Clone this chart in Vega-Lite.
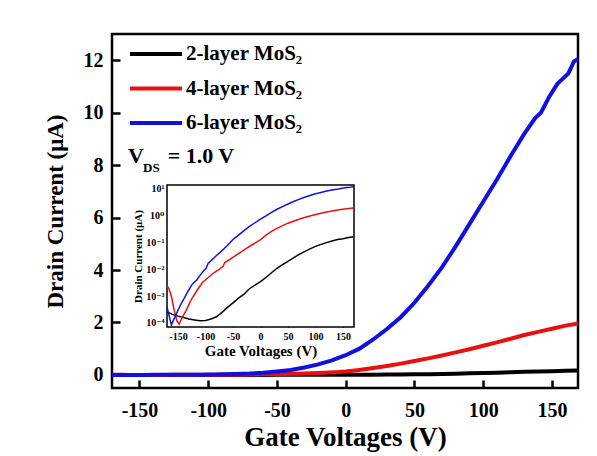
{
  "$schema": "https://vega.github.io/schema/vega-lite/v6.json",
  "width": 466,
  "height": 354,
  "autosize": {"type": "none"},
  "padding": {"left": 112, "top": 34, "right": 19, "bottom": 68},
  "background": "white",
  "config": {
    "font": "Liberation Serif, DejaVu Serif, serif",
    "view": {"stroke": "black", "strokeWidth": 2.5},
    "axis": {
      "grid": false,
      "labelFont": "Liberation Serif, DejaVu Serif, serif",
      "titleFont": "Liberation Serif, DejaVu Serif, serif",
      "labelFontWeight": "bold",
      "titleFontWeight": "bold",
      "labelColor": "black",
      "titleColor": "black",
      "tickColor": "black",
      "domainColor": "black",
      "labelFlush": false,
      "labelOverlap": false
    },
    "legend": {
      "orient": "none",
      "legendX": 16,
      "legendY": 9,
      "symbolType": "stroke",
      "symbolSize": 2704,
      "symbolStrokeWidth": 4,
      "labelFont": "Liberation Serif, DejaVu Serif, serif",
      "labelFontSize": 21,
      "labelFontWeight": "bold",
      "labelColor": "black",
      "clipHeight": 22,
      "rowPadding": 12.5,
      "labelOffset": 2,
      "padding": 0
    }
  },
  "datasets": {
    "iv": [
      {"layer": "2-layer MoS₂", "Vg": -170, "Id": 0.00026},
      {"layer": "2-layer MoS₂", "Vg": -160, "Id": 0.00021},
      {"layer": "2-layer MoS₂", "Vg": -150, "Id": 0.00018},
      {"layer": "2-layer MoS₂", "Vg": -140, "Id": 0.00016},
      {"layer": "2-layer MoS₂", "Vg": -130, "Id": 0.00014},
      {"layer": "2-layer MoS₂", "Vg": -120, "Id": 0.00013},
      {"layer": "2-layer MoS₂", "Vg": -110, "Id": 0.00012},
      {"layer": "2-layer MoS₂", "Vg": -100, "Id": 0.000125},
      {"layer": "2-layer MoS₂", "Vg": -90, "Id": 0.00014},
      {"layer": "2-layer MoS₂", "Vg": -80, "Id": 0.00017},
      {"layer": "2-layer MoS₂", "Vg": -70, "Id": 0.00025},
      {"layer": "2-layer MoS₂", "Vg": -60, "Id": 0.00038},
      {"layer": "2-layer MoS₂", "Vg": -50, "Id": 0.00056},
      {"layer": "2-layer MoS₂", "Vg": -40, "Id": 0.00085},
      {"layer": "2-layer MoS₂", "Vg": -30, "Id": 0.0012},
      {"layer": "2-layer MoS₂", "Vg": -20, "Id": 0.0019},
      {"layer": "2-layer MoS₂", "Vg": -10, "Id": 0.0026},
      {"layer": "2-layer MoS₂", "Vg": 0, "Id": 0.0035},
      {"layer": "2-layer MoS₂", "Vg": 10, "Id": 0.005},
      {"layer": "2-layer MoS₂", "Vg": 20, "Id": 0.0075},
      {"layer": "2-layer MoS₂", "Vg": 30, "Id": 0.011},
      {"layer": "2-layer MoS₂", "Vg": 40, "Id": 0.015},
      {"layer": "2-layer MoS₂", "Vg": 50, "Id": 0.02},
      {"layer": "2-layer MoS₂", "Vg": 60, "Id": 0.027},
      {"layer": "2-layer MoS₂", "Vg": 70, "Id": 0.036},
      {"layer": "2-layer MoS₂", "Vg": 80, "Id": 0.046},
      {"layer": "2-layer MoS₂", "Vg": 90, "Id": 0.058},
      {"layer": "2-layer MoS₂", "Vg": 100, "Id": 0.072},
      {"layer": "2-layer MoS₂", "Vg": 110, "Id": 0.086},
      {"layer": "2-layer MoS₂", "Vg": 120, "Id": 0.1},
      {"layer": "2-layer MoS₂", "Vg": 130, "Id": 0.115},
      {"layer": "2-layer MoS₂", "Vg": 140, "Id": 0.13},
      {"layer": "2-layer MoS₂", "Vg": 150, "Id": 0.14},
      {"layer": "2-layer MoS₂", "Vg": 160, "Id": 0.155},
      {"layer": "2-layer MoS₂", "Vg": 169, "Id": 0.165},

      {"layer": "4-layer MoS₂", "Vg": -170, "Id": 0.0025},
      {"layer": "4-layer MoS₂", "Vg": -166, "Id": 0.0018},
      {"layer": "4-layer MoS₂", "Vg": -162, "Id": 0.001},
      {"layer": "4-layer MoS₂", "Vg": -157, "Id": 0.0003},
      {"layer": "4-layer MoS₂", "Vg": -152, "Id": 0.00012},
      {"layer": "4-layer MoS₂", "Vg": -148, "Id": 0.00009},
      {"layer": "4-layer MoS₂", "Vg": -143, "Id": 0.00015},
      {"layer": "4-layer MoS₂", "Vg": -135, "Id": 0.0003},
      {"layer": "4-layer MoS₂", "Vg": -125, "Id": 0.0008},
      {"layer": "4-layer MoS₂", "Vg": -115, "Id": 0.0017},
      {"layer": "4-layer MoS₂", "Vg": -105, "Id": 0.0033},
      {"layer": "4-layer MoS₂", "Vg": -95, "Id": 0.005},
      {"layer": "4-layer MoS₂", "Vg": -85, "Id": 0.0075},
      {"layer": "4-layer MoS₂", "Vg": -75, "Id": 0.01},
      {"layer": "4-layer MoS₂", "Vg": -68, "Id": 0.013},
      {"layer": "4-layer MoS₂", "Vg": -65, "Id": 0.018},
      {"layer": "4-layer MoS₂", "Vg": -55, "Id": 0.024},
      {"layer": "4-layer MoS₂", "Vg": -45, "Id": 0.033},
      {"layer": "4-layer MoS₂", "Vg": -35, "Id": 0.045},
      {"layer": "4-layer MoS₂", "Vg": -25, "Id": 0.062},
      {"layer": "4-layer MoS₂", "Vg": -15, "Id": 0.083},
      {"layer": "4-layer MoS₂", "Vg": -5, "Id": 0.11},
      {"layer": "4-layer MoS₂", "Vg": 0, "Id": 0.13},
      {"layer": "4-layer MoS₂", "Vg": 10, "Id": 0.19},
      {"layer": "4-layer MoS₂", "Vg": 20, "Id": 0.26},
      {"layer": "4-layer MoS₂", "Vg": 30, "Id": 0.34},
      {"layer": "4-layer MoS₂", "Vg": 40, "Id": 0.43},
      {"layer": "4-layer MoS₂", "Vg": 50, "Id": 0.53},
      {"layer": "4-layer MoS₂", "Vg": 60, "Id": 0.63},
      {"layer": "4-layer MoS₂", "Vg": 70, "Id": 0.74},
      {"layer": "4-layer MoS₂", "Vg": 80, "Id": 0.86},
      {"layer": "4-layer MoS₂", "Vg": 90, "Id": 0.98},
      {"layer": "4-layer MoS₂", "Vg": 100, "Id": 1.11},
      {"layer": "4-layer MoS₂", "Vg": 110, "Id": 1.24},
      {"layer": "4-layer MoS₂", "Vg": 120, "Id": 1.38},
      {"layer": "4-layer MoS₂", "Vg": 130, "Id": 1.52},
      {"layer": "4-layer MoS₂", "Vg": 140, "Id": 1.64},
      {"layer": "4-layer MoS₂", "Vg": 150, "Id": 1.76},
      {"layer": "4-layer MoS₂", "Vg": 160, "Id": 1.88},
      {"layer": "4-layer MoS₂", "Vg": 169, "Id": 1.96},

      {"layer": "6-layer MoS₂", "Vg": -170, "Id": 0.0004},
      {"layer": "6-layer MoS₂", "Vg": -166, "Id": 0.00018},
      {"layer": "6-layer MoS₂", "Vg": -162, "Id": 0.000085},
      {"layer": "6-layer MoS₂", "Vg": -158, "Id": 0.00013},
      {"layer": "6-layer MoS₂", "Vg": -152, "Id": 0.00024},
      {"layer": "6-layer MoS₂", "Vg": -146, "Id": 0.00045},
      {"layer": "6-layer MoS₂", "Vg": -140, "Id": 0.00075},
      {"layer": "6-layer MoS₂", "Vg": -132, "Id": 0.0015},
      {"layer": "6-layer MoS₂", "Vg": -124, "Id": 0.0028},
      {"layer": "6-layer MoS₂", "Vg": -116, "Id": 0.004},
      {"layer": "6-layer MoS₂", "Vg": -110, "Id": 0.006},
      {"layer": "6-layer MoS₂", "Vg": -104, "Id": 0.0085},
      {"layer": "6-layer MoS₂", "Vg": -99, "Id": 0.011},
      {"layer": "6-layer MoS₂", "Vg": -95, "Id": 0.017},
      {"layer": "6-layer MoS₂", "Vg": -90, "Id": 0.021},
      {"layer": "6-layer MoS₂", "Vg": -80, "Id": 0.033},
      {"layer": "6-layer MoS₂", "Vg": -70, "Id": 0.05},
      {"layer": "6-layer MoS₂", "Vg": -60, "Id": 0.08},
      {"layer": "6-layer MoS₂", "Vg": -50, "Id": 0.13},
      {"layer": "6-layer MoS₂", "Vg": -40, "Id": 0.19},
      {"layer": "6-layer MoS₂", "Vg": -30, "Id": 0.28},
      {"layer": "6-layer MoS₂", "Vg": -20, "Id": 0.4},
      {"layer": "6-layer MoS₂", "Vg": -10, "Id": 0.55},
      {"layer": "6-layer MoS₂", "Vg": 0, "Id": 0.75},
      {"layer": "6-layer MoS₂", "Vg": 10, "Id": 1.0},
      {"layer": "6-layer MoS₂", "Vg": 20, "Id": 1.35},
      {"layer": "6-layer MoS₂", "Vg": 30, "Id": 1.75},
      {"layer": "6-layer MoS₂", "Vg": 40, "Id": 2.2},
      {"layer": "6-layer MoS₂", "Vg": 50, "Id": 2.75},
      {"layer": "6-layer MoS₂", "Vg": 60, "Id": 3.4},
      {"layer": "6-layer MoS₂", "Vg": 70, "Id": 4.1},
      {"layer": "6-layer MoS₂", "Vg": 80, "Id": 4.9},
      {"layer": "6-layer MoS₂", "Vg": 90, "Id": 5.75},
      {"layer": "6-layer MoS₂", "Vg": 100, "Id": 6.6},
      {"layer": "6-layer MoS₂", "Vg": 110, "Id": 7.45},
      {"layer": "6-layer MoS₂", "Vg": 120, "Id": 8.35},
      {"layer": "6-layer MoS₂", "Vg": 130, "Id": 9.2},
      {"layer": "6-layer MoS₂", "Vg": 138, "Id": 9.8},
      {"layer": "6-layer MoS₂", "Vg": 142, "Id": 10.0},
      {"layer": "6-layer MoS₂", "Vg": 148, "Id": 10.6},
      {"layer": "6-layer MoS₂", "Vg": 154, "Id": 11.1},
      {"layer": "6-layer MoS₂", "Vg": 158, "Id": 11.3},
      {"layer": "6-layer MoS₂", "Vg": 162, "Id": 11.5},
      {"layer": "6-layer MoS₂", "Vg": 166, "Id": 11.95},
      {"layer": "6-layer MoS₂", "Vg": 169, "Id": 12.05}
    ]
  },
  "layer": [
    {
      "layer": [
        {
          "data": {"name": "iv"},
          "mark": {"type": "line", "strokeWidth": 4},
          "encoding": {
            "x": {
              "field": "Vg", "type": "quantitative",
              "scale": {"domain": [-170, 169], "nice": false, "zero": false},
              "axis": {
                "orient": "bottom",
                "values": [-150, -125, -100, -75, -50, -25, 0, 25, 50, 75, 100, 125, 150],
                "labelExpr": "datum.value % 50 === 0 ? replace(datum.label, '−', '-') : ''",
                "tickSize": {"condition": {"test": "datum.value % 50 === 0", "value": -8}, "value": -4},
                "tickWidth": 2.5,
                "labelFontSize": 20,
                "labelPadding": 20,
                "domain": false,
                "title": "Gate Voltages (V)",
                "titleFontSize": 27,
                "titlePadding": 4
              }
            },
            "y": {
              "field": "Id", "type": "quantitative",
              "scale": {"domain": [-0.5, 13], "nice": false, "zero": false},
              "axis": {
                "orient": "left",
                "values": [0, 1, 2, 3, 4, 5, 6, 7, 8, 9, 10, 11, 12],
                "labelExpr": "datum.value % 2 === 0 ? datum.label : ''",
                "tickSize": {"condition": {"test": "datum.value % 2 === 0", "value": -8}, "value": -4},
                "tickWidth": 2.5,
                "labelFontSize": 20,
                "labelPadding": 17,
                "domain": false,
                "title": "Drain Current (μA)",
                "titleFontSize": 23,
                "titlePadding": 16
              }
            },
            "color": {
              "field": "layer", "type": "nominal",
              "scale": {"domain": ["2-layer MoS₂", "4-layer MoS₂", "6-layer MoS₂"], "range": ["#000000", "#e81010", "#1010e0"]},
              "legend": {"title": null}
            }
          }
        },
        {
          "data": {"values": [{}]},
          "mark": {"type": "text", "text": "V", "align": "left", "baseline": "alphabetic", "font": "Liberation Serif, DejaVu Serif, serif", "fontWeight": "bold", "fontSize": 22, "color": "black"},
          "encoding": {
            "x": {"datum": -158.4, "type": "quantitative"},
            "y": {"datum": 8.08, "type": "quantitative"}
          }
        },
        {
          "data": {"values": [{}]},
          "mark": {"type": "text", "text": "DS", "align": "left", "baseline": "alphabetic", "font": "Liberation Serif, DejaVu Serif, serif", "fontWeight": "bold", "fontSize": 13, "color": "black"},
          "encoding": {
            "x": {"datum": -147.4, "type": "quantitative"},
            "y": {"datum": 7.74, "type": "quantitative"}
          }
        },
        {
          "data": {"values": [{}]},
          "mark": {"type": "text", "text": "= 1.0 V", "align": "left", "baseline": "alphabetic", "font": "Liberation Serif, DejaVu Serif, serif", "fontWeight": "bold", "fontSize": 22, "color": "black"},
          "encoding": {
            "x": {"datum": -129.5, "type": "quantitative"},
            "y": {"datum": 8.08, "type": "quantitative"}
          }
        }
      ]
    },
    {
      "layer": [
        {
          "data": {"values": [{}]},
          "mark": {"type": "rect", "fill": "white", "stroke": "black", "strokeWidth": 1.5},
          "encoding": {
            "x": {"datum": -170, "type": "quantitative"},
            "x2": {"datum": 170},
            "y": {"datum": 0.0000708, "type": "quantitative"},
            "y2": {"datum": 14.1}
          }
        },
        {
          "data": {"name": "iv"},
          "mark": {"type": "line", "strokeWidth": 1.5},
          "encoding": {
            "x": {
              "field": "Vg", "type": "quantitative",
              "scale": {"domain": [-170, 170], "nice": false, "zero": false, "range": [55, 242]},
              "axis": {
                "orient": "bottom",
                "offset": -61,
                "values": [-150, -125, -100, -75, -50, -25, 0, 25, 50, 75, 100, 125, 150],
                "labelExpr": "datum.value % 50 === 0 ? replace(datum.label, '−', '-') : ''",
                "tickSize": {"condition": {"test": "datum.value % 50 === 0", "value": -4}, "value": -2},
                "tickWidth": 1,
                "labelFontSize": 10,
                "labelPadding": 8,
                "domain": false,
                "title": "Gate Voltages (V)",
                "titleFontSize": 15,
                "titlePadding": 2
              }
            },
            "y": {
              "field": "Id", "type": "quantitative",
              "scale": {"type": "log", "domain": [0.0000708, 14.1], "nice": false, "range": [293, 151]},
              "axis": {
                "orient": "left",
                "offset": -55,
                "values": [0.0001, 0.001, 0.01, 0.1, 1, 10],
                "labelExpr": "datum.value >= 5 ? '10¹' : datum.value >= 0.5 ? '10⁰' : datum.value >= 0.05 ? '10⁻¹' : datum.value >= 0.005 ? '10⁻²' : datum.value >= 0.0005 ? '10⁻³' : '10⁻⁴'",
                "tickSize": -4,
                "tickWidth": 1,
                "labelFontSize": 10,
                "labelPadding": 7,
                "domain": false,
                "title": "Drain Current (μA)",
                "titleFontSize": 11,
                "titlePadding": 2
              }
            },
            "color": {"field": "layer", "type": "nominal"}
          }
        }
      ]
    }
  ],
  "resolve": {
    "scale": {"x": "independent", "y": "independent"},
    "axis": {"x": "independent", "y": "independent"}
  }
}
